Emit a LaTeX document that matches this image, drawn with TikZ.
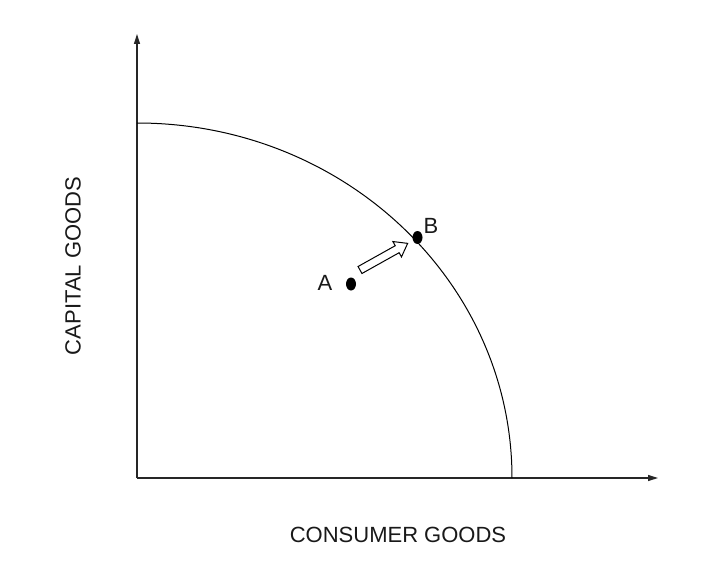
\documentclass[tikz,border=0pt]{standalone}
\usepackage{fontspec}
\setmainfont{Liberation Sans}
\usetikzlibrary{arrows.meta}
\tikzset{
  axis/.style={line width=1.3pt, draw=black!85, -{Triangle[length=10pt,width=6pt]}},
  ppf/.style={line width=1pt, draw=black},
  pt/.style={ellipse, fill=black, inner sep=0pt, minimum width=10pt, minimum height=13pt},
  lbl/.style={font=\fontsize{22}{26}\selectfont, text=black!90, inner sep=0pt},
  hollow/.style={draw=black, line width=1pt, fill=white, line join=miter}
}
\usetikzlibrary{shapes.geometric}
\begin{document}
\begin{tikzpicture}[x=1pt,y=1pt]
\useasboundingbox (0,0) rectangle (716,-586);
\coordinate (O) at (137,-478);
\coordinate (ytip) at (137,-34);
\coordinate (xtip) at (658,-478);
\draw[axis] (O) -- (ytip);
\draw[axis] (O) -- (xtip);
\draw[ppf] (137,-123) arc[start angle=90, end angle=0, x radius=375pt, y radius=355pt];
\node[pt] (A) at (351,-284) {};
\node[pt] (B) at (417.5,-237.5) {};
\node[lbl] (la) at (325,-283) {A};
\node[lbl] (lb) at (431,-226) {B};
\begin{scope}[shift={(360,-270)}, rotate=29.2]
\draw[hollow] (0,-4) -- (42.6,-4) -- (42.6,-8.8) -- (54.6,0) -- (42.6,8.8) -- (42.6,4) -- (0,4) -- cycle;
\end{scope}
\node[lbl] (cg) at (398,-535) {CONSUMER GOODS};
\node[lbl, rotate=90] (kg) at (73,-266) {CAPITAL GOODS};
\end{tikzpicture}
\end{document}
